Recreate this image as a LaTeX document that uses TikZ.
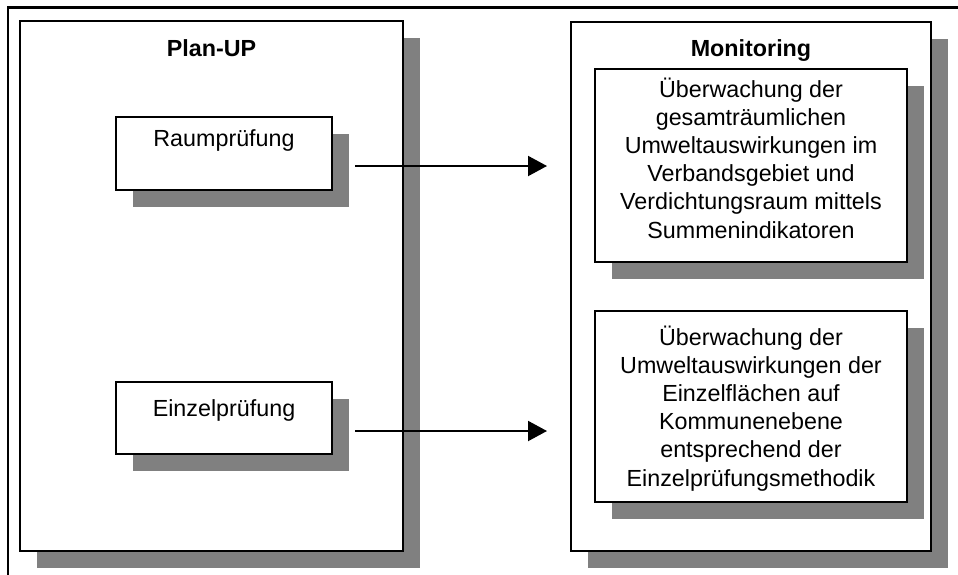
\documentclass[tikz,border=0pt]{standalone}
\usepackage{fontspec}
\setmainfont{Liberation Sans}
\usetikzlibrary{arrows.meta,shadows}
\definecolor{shgray}{RGB}{128,128,128}
\begin{document}
\begin{tikzpicture}[x=1pt,y=-1pt,
  box/.style={rectangle, draw=black, line width=1.8pt, fill=white, inner sep=0pt,
    drop shadow={shadow xshift=17pt, shadow yshift=-17pt, fill=shgray, opacity=1}},
  txt/.style={inner sep=0pt, anchor=base, font=\fontsize{23.3}{28.2}\selectfont},
  ttl/.style={txt, font=\fontsize{23.3}{28.2}\selectfont\bfseries},
  arr/.style={line width=2pt, -{Triangle[length=19pt,width=20pt]}}]
\useasboundingbox (0,0) rectangle (958,574);
% outer frame (partly cut off)
\draw[line width=2.4pt] (970,7.5) -- (8,7.5) -- (8,590);
% big boxes
\node[box, minimum width=383pt, minimum height=530pt] (plan) at (211.5,286) {};
\node[box, minimum width=360pt, minimum height=529pt] (moni) at (751,286.5) {};
% inner boxes
\node[box, minimum width=216pt, minimum height=73pt] (raum) at (224,153.5) {};
\node[box, minimum width=216pt, minimum height=72pt] (einz) at (224,418) {};
\node[box, minimum width=312pt, minimum height=193pt] (mon1) at (751,165.5) {};
\node[box, minimum width=312pt, minimum height=191pt] (mon2) at (751,406.5) {};
% titles
\node[ttl] (plantitle) at (211.5,56) {Plan-UP};
\node[ttl] (monititle) at (751,56) {Monitoring};
% texts
\node[txt] (raumtxt) at (224,146) {Raumprüfung};
\node[txt] (einztxt) at (224,416) {Einzelprüfung};
\node[txt] (mon1txt) at (751,97) {\begin{tabular}[t]{@{}c@{}}Überwachung der\\gesamträumlichen\\Umweltauswirkungen im\\Verbandsgebiet und\\Verdichtungsraum mittels\\Summenindikatoren\end{tabular}};
\node[txt] (mon2txt) at (751,345) {\begin{tabular}[t]{@{}c@{}}Überwachung der\\Umweltauswirkungen der\\Einzelflächen auf\\Kommunenebene\\entsprechend der\\Einzelprüfungsmethodik\end{tabular}};
% arrows
\coordinate (a1s) at (355,166);
\coordinate (a1e) at (547,166);
\coordinate (a2s) at (355,431);
\coordinate (a2e) at (547,431);
\draw[arr] (a1s) -- (a1e);
\draw[arr] (a2s) -- (a2e);
\end{tikzpicture}
\end{document}
